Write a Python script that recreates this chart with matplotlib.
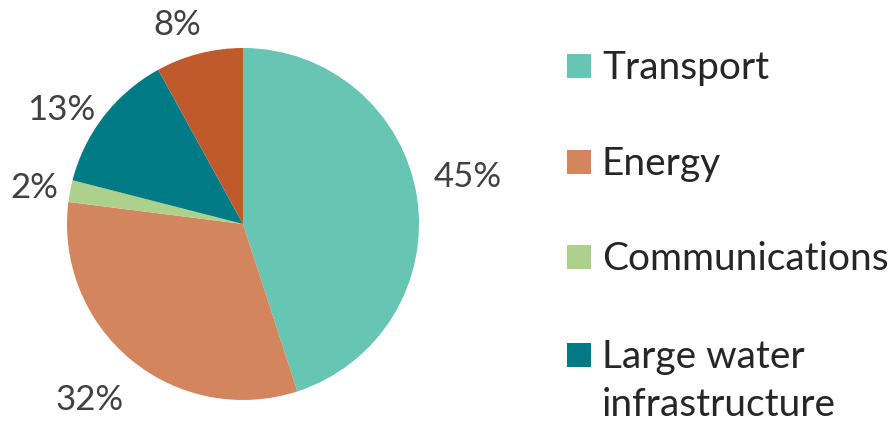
import numpy as np
import matplotlib
matplotlib.use("Agg")
import matplotlib.pyplot as plt
from matplotlib.patches import Rectangle

plt.rcParams['font.family'] = ['Lato', 'DejaVu Sans']

categories = ["Transport", "Energy", "Communications", "Large water\ninfrastructure", "Other"]
values = [45, 32, 2, 13, 8]
pct_labels = ["45%", "32%", "2%", "13%", "8%"]
colors = ["#66C5B3", "#D3865E", "#ADD18D", "#007A84", "#C05A2D"]
legend_n = 4

W, H = 895, 425
fig = plt.figure(figsize=(W / 100, H / 100), dpi=100)
cx, cy, r = 243, 425 - 224, 176
ra = 200
ax = fig.add_axes([(cx - ra) / W, (cy - ra) / H, 2 * ra / W, 2 * ra / H])

wedges, _ = ax.pie(values, colors=colors, startangle=90, counterclock=False,
                   radius=1.0, wedgeprops=dict(linewidth=0))
lim = ra / r
ax.set_xlim(-lim, lim)
ax.set_ylim(-lim, lim)
ax.set_aspect('equal')
ax.axis('off')

# percentage labels (placed around each wedge's mid angle)
dist = [1.309, 1.315, 1.207, 1.228, 1.205]
dang = [3.4, -1.8, 0.4, 5.2, 3.7]
half_cap = 12.5 / r
for w, lab, d, da in zip(wedges, pct_labels, dist, dang):
    mid = np.deg2rad((w.theta1 + w.theta2) / 2 + da)
    ax.text(d * np.cos(mid), d * np.sin(mid) - half_cap, lab, ha='center',
            va='baseline', fontsize=25, color='#404040', clip_on=False)

# legend (drawn manually to match layout)
row_y = [66, 162, 257, 355]
sw = 24
x_sw = 567
x_txt = 602
line_h = 48
for i in range(legend_n):
    yc = row_y[i]
    fig.patches.append(Rectangle(((x_sw) / W, 1 - (yc + sw / 2) / H), sw / W, sw / H,
                                 transform=fig.transFigure, facecolor=colors[i],
                                 edgecolor='none'))
    for k, line in enumerate(categories[i].split("\n")):
        fig.text(x_txt / W, 1 - (yc + 13 + k * line_h) / H, line, ha='left',
                 va='baseline', fontsize=28, color='#262626')

fig.savefig("out.png", dpi=100)
